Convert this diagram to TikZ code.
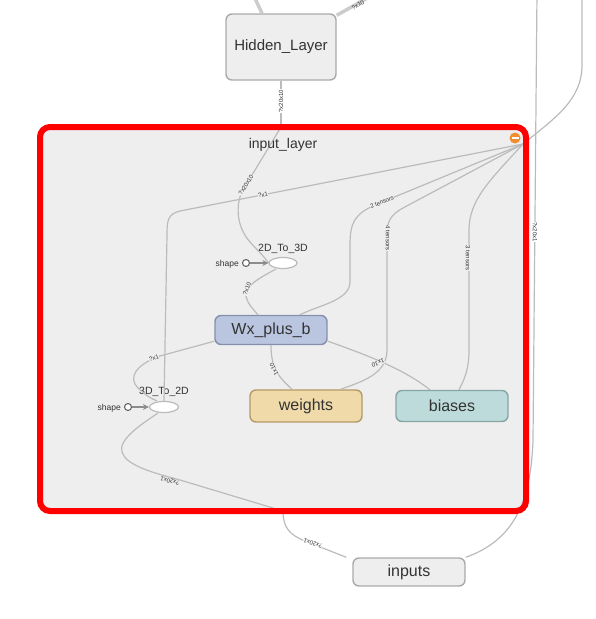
\documentclass[tikz,border=0pt]{standalone}
\usepackage{fontspec}
\setmainfont{Liberation Sans}
\usetikzlibrary{shapes.geometric,arrows.meta}
\definecolor{edgec}{HTML}{BBBBBB}
\definecolor{thickc}{HTML}{CCCCCC}
\definecolor{txt}{HTML}{333333}
\definecolor{grpfill}{HTML}{EEEEEE}
\definecolor{greyfill}{HTML}{EEEEEE}
\definecolor{greystroke}{HTML}{AAAAAA}
\definecolor{wxfill}{HTML}{BAC5DF}
\definecolor{wxstroke}{HTML}{8590AE}
\definecolor{wfill}{HTML}{F0DAA9}
\definecolor{wstroke}{HTML}{B49B68}
\definecolor{bfill}{HTML}{BCDBDA}
\definecolor{bstroke}{HTML}{86A6A4}
\definecolor{grpred}{HTML}{FF0000}
\definecolor{orangec}{HTML}{EE8E2C}
\begin{document}
\begin{tikzpicture}[x=1pt,y=-1pt,
  opbox/.style={draw, rounded corners=6pt, line width=1.4pt, text=txt,
    font=\fontsize{16}{18}\selectfont, inner sep=0pt, minimum width=112pt},
  edge/.style={draw=edgec, line width=1.2pt},
  thick edge/.style={draw=thickc, line width=3.5pt},
  elabel/.style={text=txt, font=\fontsize{6}{6}\selectfont, inner sep=0pt},
  oplabel/.style={text=txt, font=\fontsize{10.5}{11}\selectfont, inner sep=0pt},
  shapelabel/.style={text=txt, font=\fontsize{8.5}{9}\selectfont, inner sep=0pt},
  opellipse/.style={ellipse, draw=edgec, fill=white, line width=1.2pt, minimum width=28pt, minimum height=11pt, inner sep=0pt},
  constdot/.style={circle, draw=gray!80!black, fill=white, line width=1.1pt, minimum size=7pt, inner sep=0pt},
  arr/.style={draw=gray!90, line width=1.2pt, -{Stealth[length=6pt,width=6pt]}}
]
\useasboundingbox (0,0) rectangle (596,619);

% group background
\fill[grpfill, rounded corners=10pt] (40,127) rectangle (526,511);

% nodes outside
\node[opbox, fill=greyfill, draw=greystroke, minimum width=110pt, minimum height=66pt, font=\fontsize{15}{17}\selectfont] (hidden) at (281,47) {Hidden\_Layer};
\node[opbox, fill=greyfill, draw=greystroke, minimum height=28pt] (inputs) at (409,572) {inputs};

% nodes inside
\node[opbox, fill=wxfill, draw=wxstroke, minimum height=29pt] (wx) at (271,330) {Wx\_plus\_b};
\node[opbox, fill=wfill, draw=wstroke, minimum height=32pt] (weights) at (306,406) {weights};
\node[opbox, fill=bfill, draw=bstroke, minimum height=31pt] (biases) at (452,406) {biases};

\node[opellipse] (t23) at (283,263) {};
\node[opellipse, minimum width=29pt] (t32) at (164,407) {};
\node[oplabel] (t23l) at (283,249) {2D\_To\_3D};
\node[oplabel] (t32l) at (164,392) {3D\_To\_2D};
\node[constdot] (s1) at (246,263) {};
\node[constdot] (s2) at (128,407) {};
\node[shapelabel, anchor=east] (s1l) at (239,264) {shape};
\node[shapelabel, anchor=east] (s2l) at (121,408) {shape};

% coordinates
\coordinate (hub) at (523,144);
\coordinate (tp) at (281,127);
\coordinate (bt) at (283,511);
\coordinate (offL) at (252,-8);
\coordinate (offR) at (378,-8);
\coordinate (offA) at (537,-8);
\coordinate (offB) at (582,-8);

% thick edges at top
\draw[thick edge] ([xshift=-19pt]hidden.north) -- (offL);
\draw[thick edge] ([yshift=-2pt]hidden.north east) -- (offR);
\node[elabel, rotate=30] (toplab) at (358,5) {?x10};

% right long edges
\draw[edge] (offA) -- (533,440) .. controls (531,500) and (515,540) .. (inputs.north east);
\node[elabel, rotate=-90, fill=white, inner sep=0.3pt] (l7201) at (535,232) {?x20x1};
\draw[edge] (offB) -- (582,65) .. controls (582,100) and (555,118) .. (hub);

% hidden -> group
\draw[edge] (hidden.south) -- (tp);
\node[elabel, rotate=90, fill=white, inner sep=0.3pt] (lh) at (281,101) {?x20x10};

% inside edge to 2D_To_3D
\draw[edge] (tp) -- (243,190) .. controls (236,202) and (235,225) .. (250,242) .. controls (258,251) and (264,256) .. (t23.west);
\node[elabel, rotate=58, fill=grpfill, inner sep=0.3pt] (l2) at (246,185) {?x20x10};

% hub edges
\draw[edge] (hub) -- (180,211) .. controls (168,214) and (167,220) .. (167,235) -- (t32.north);
\node[elabel, rotate=11, fill=grpfill, inner sep=0.3pt] (l71) at (263,195) {?x1};

\draw[edge] (hub) -- (375,205) .. controls (355,214) and (350,222) .. (350,245) -- (350,282) .. controls (350,300) and (320,305) .. ([xshift=-28pt]wx.north east);
\node[elabel, rotate=22, fill=grpfill, inner sep=0.3pt] (l2t) at (382,202) {2 tensors};

\draw[edge] (hub) -- (403,208) .. controls (390,215) and (387,222) .. (387,235) -- (387,350) .. controls (387,375) and (360,382) .. ([xshift=-22pt]weights.north east);
\node[elabel, rotate=-90, fill=grpfill, inner sep=0.3pt] (l4t) at (388,238) {4 tensors};

\draw[edge] (hub) .. controls (490,180) and (469,200) .. (469,230) -- (469,350) .. controls (469,370) and (464,380) .. ([xshift=7pt]biases.north);
\node[elabel, rotate=-90, fill=grpfill, inner sep=0.3pt] (l3t) at (468,258) {3 tensors};

% shape arrows
\draw[arr] (s1.east) -- (t23.west);
\draw[arr] (s2.east) -- (t32.west);

% 2D_To_3D -> Wx_plus_b
\draw[edge] ([xshift=-7pt]t23.south) .. controls (255,280) and (244,288) .. (246,296) .. controls (248,305) and (254,310) .. ([xshift=-13pt]wx.north);
\node[elabel, rotate=70, fill=grpfill, inner sep=0.3pt] (l10) at (247,289) {?x10};

% Wx_plus_b -> weights
\draw[edge] (wx.south) .. controls (271,370) and (280,378) .. ([xshift=-14pt]weights.north);
\node[elabel, rotate=115, fill=grpfill, inner sep=0.3pt] (l1x10a) at (274,369) {1x10};

% Wx_plus_b -> biases
\draw[edge] ([yshift=4pt]wx.south east) .. controls (370,356) and (405,370) .. ([xshift=-22pt]biases.north);
\node[elabel, rotate=200, fill=grpfill, inner sep=0.3pt] (l1x10b) at (378,363) {1x10};

% Wx_plus_b -> 3D_To_2D
\draw[edge] ([yshift=4pt]wx.south west) -- (160,356) .. controls (135,365) and (128,378) .. (138,388) .. controls (145,395) and (152,399) .. ([xshift=-7pt]t32.north);
\node[elabel, rotate=17, fill=grpfill, inner sep=0.3pt] (l71b) at (154,358) {?x1};

% 3D_To_2D -> bottom border
\draw[edge] ([xshift=-6pt]t32.south) .. controls (140,425) and (118,440) .. (122,452) .. controls (126,465) and (150,472) .. (180,480) -- (bt);
\node[elabel, rotate=164, fill=grpfill, inner sep=0.3pt] (l201) at (170,481) {?x20x1};

% border -> inputs
\draw[edge] (bt) .. controls (283,528) and (290,535) .. (305,541) -- ([xshift=-6pt]inputs.north west);
\node[elabel, rotate=162, fill=white, inner sep=0.3pt] (l201b) at (313,543) {?x20x1};

% group border and title
\draw[grpred, line width=6pt, rounded corners=10pt] (40,127) rectangle (526,511);
\node[text=txt, font=\fontsize{14}{16}\selectfont, inner sep=0pt] (title) at (283,145) {input\_layer};
\node[circle, fill=orangec, minimum size=11pt, inner sep=0pt] (collapse) at (515,138) {};
\draw[white, line width=2pt] ([xshift=-3.5pt]collapse.center) -- ([xshift=3.5pt]collapse.center);
\end{tikzpicture}
\end{document}
